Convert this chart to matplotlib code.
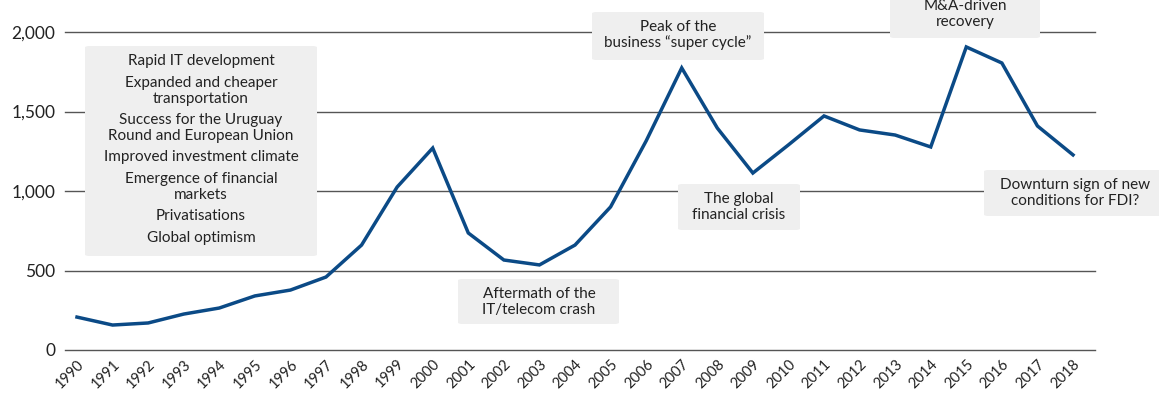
import numpy as np
import matplotlib.pyplot as plt
import matplotlib.transforms as mtransforms
from matplotlib.patches import FancyBboxPatch

years = list(range(1990, 2019))
fdi = [207, 157, 170, 226, 264, 340, 377, 459, 660, 1025, 1270, 736, 566, 535,
       660, 900, 1315, 1774, 1396, 1113, 1290, 1472, 1384, 1352, 1277, 1906,
       1805, 1409, 1227]

yticks = [0, 500, 1000, 1500, 2000]
ytick_labels = ['0', '500', '1,000', '1,500', '2,000']

left_box_lines = [
    ['Rapid IT development'],
    ['Expanded and cheaper', 'transportation'],
    ['Success for the Uruguay', 'Round and European Union'],
    ['Improved investment climate'],
    ['Emergence of financial', 'markets'],
    ['Privatisations'],
    ['Global optimism'],
]

W, H = 1159, 394
LINE = '#0b4a86'
BOX = '#efefef'
TXT = '#222222'
FONT = 'Lato'

fig = plt.figure(figsize=(W / 100, H / 100), dpi=100)
ax = fig.add_axes([65 / W, 1 - 350 / H, (1095 - 65) / W, (350 - 32) / H])

def px(x, y):
    return x / W, 1 - y / H

# gridlines
for t in yticks:
    ax.axhline(t, color='#555555', lw=1.0, zorder=1, clip_on=False)

ax.plot(years, fdi, color=LINE, lw=2.5, zorder=3, solid_joinstyle='miter')

ax.set_xlim(1990 - 12 / 35.6, 2018 + 22 / 35.6)
ax.set_ylim(0, 2000)
ax.set_yticks(yticks)
ax.set_yticklabels(ytick_labels, fontsize=12.5, family=FONT, color=TXT)
ax.set_xticks(years)
ax.set_xticklabels([str(y) for y in years], rotation=45, ha='right', va='top',
                   rotation_mode='anchor', fontsize=10.5, family=FONT,
                   color=TXT)
shift = mtransforms.ScaledTranslation(6 / 100, 0, fig.dpi_scale_trans)
for lbl in ax.get_xticklabels():
    lbl.set_transform(lbl.get_transform() + shift)
ax.tick_params(axis='both', length=0)
ax.tick_params(axis='y', pad=7)
ax.tick_params(axis='x', pad=5)
for s in ax.spines.values():
    s.set_visible(False)


def box(x0, y0, x1, y1):
    bx, by = px(x0, y1)
    p = FancyBboxPatch((bx, by), (x1 - x0) / W, (y1 - y0) / H,
                       boxstyle='round,pad=0,rounding_size=0.004',
                       transform=fig.transFigure, facecolor=BOX,
                       edgecolor='none', zorder=5)
    fig.patches.append(p)


def label(cx, y, s):
    fx, fy = px(cx, y)
    fig.text(fx, fy, s, ha='center', va='center', fontsize=11,
             family=FONT, color=TXT, zorder=6)


# left box with drivers
box(85, 46, 317, 256)
y = 61
for item in left_box_lines:
    for i, ln in enumerate(item):
        label(201, y, ln)
        y += 16
    y += 5.5

# event boxes
events = [
    ((458, 279, 619, 324), 539, 294, ['Aftermath of the', 'IT/telecom crash']),
    ((592, 12, 764, 60), 678, 27, ['Peak of the', 'business \u201csuper cycle\u201d']),
    ((678, 184, 800, 230), 739, 199, ['The global', 'financial crisis']),
    ((890, -10, 1040, 38), 965, 6, ['M&A-driven', 'recovery']),
    ((984, 170, 1165, 216), 1075, 185, ['Downturn sign of new', 'conditions for FDI?']),
]
for (x0, y0, x1, y1), cx, ty, lines in events:
    box(x0, y0, x1, y1)
    for i, ln in enumerate(lines):
        label(cx, ty + 16 * i, ln)

fig.savefig('out.png', dpi=100)
